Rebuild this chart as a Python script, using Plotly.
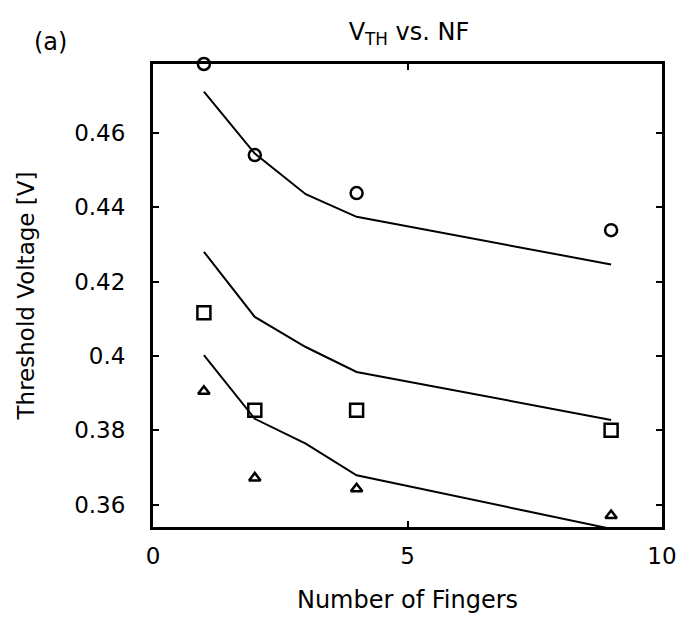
import plotly.graph_objects as go

# Number of fingers
nf_meas = [1, 2, 4, 9]
nf_model = [1, 2, 3, 4, 9]

# Measured threshold voltage [V]
vth_circle = [0.4785, 0.4540, 0.4438, 0.4338]
vth_square = [0.4116, 0.3854, 0.3854, 0.3800]
vth_triangle = [0.3905, 0.3672, 0.3643, 0.3571]

# Model curves [V]
model_circle = [0.4711, 0.4544, 0.4435, 0.4374, 0.4246]
model_square = [0.4280, 0.4105, 0.4024, 0.3957, 0.3828]
model_triangle = [0.4002, 0.3831, 0.3764, 0.3679, 0.3535]

x_ticks = [0, 5, 10]
y_ticks = [0.36, 0.38, 0.40, 0.42, 0.44, 0.46]
y_tick_text = ["0.36", "0.38", "0.4", "0.42", "0.44", "0.46"]

FONT = "DejaVu Sans"
BLACK = "#000000"

fig = go.Figure()

for ys in (model_circle, model_square, model_triangle):
    fig.add_trace(go.Scatter(
        x=nf_model, y=ys, mode="lines",
        line=dict(color=BLACK, width=2),
        showlegend=False, hoverinfo="skip",
    ))

for ys, sym, size in ((vth_circle, "circle-open", 12),
                      (vth_square, "square-open", 13),
                      (vth_triangle, "triangle-up-open", 10)):
    fig.add_trace(go.Scatter(
        x=nf_meas, y=ys, mode="markers",
        marker=dict(symbol=sym, size=size, color=BLACK, line=dict(width=2.5, color=BLACK)),
        showlegend=False, cliponaxis=False,
    ))

fig.update_layout(
    width=689, height=627,
    margin=dict(l=153, r=14, t=64, b=100),
    paper_bgcolor="white", plot_bgcolor="white",
    font=dict(family=FONT, size=22, color=BLACK),
    title=dict(
        text="V<sub>TH</sub> vs. NF",
        x=409 / 689, xanchor="center",
        y=1 - 32 / 627, yanchor="middle",
        font=dict(family=FONT, size=24, color=BLACK),
    ),
    annotations=[dict(
        text="(a)", xref="paper", yref="paper",
        x=(48 - 153) / 522, y=(527 - 42) / 463,
        xanchor="center", yanchor="middle", showarrow=False,
        font=dict(family=FONT, size=24, color=BLACK),
    )],
)

fig.update_xaxes(
    range=[0, 10], tickvals=x_ticks,
    showline=True, linewidth=3, linecolor=BLACK, mirror="ticks",
    ticks="inside", ticklen=6, tickwidth=2, tickcolor=BLACK,
    showgrid=False, zeroline=False,
    tickfont=dict(family=FONT, size=23, color=BLACK),
    ticklabelstandoff=6, ticklabeloverflow="allow",
    title=dict(text="Number of Fingers", standoff=24,
               font=dict(family=FONT, size=24, color=BLACK)),
)

fig.update_yaxes(
    range=[0.354, 0.4785], tickvals=y_ticks, ticktext=y_tick_text,
    showline=True, linewidth=3, linecolor=BLACK, mirror="ticks",
    ticks="inside", ticklen=6, tickwidth=2, tickcolor=BLACK,
    showgrid=False, zeroline=False,
    tickfont=dict(family=FONT, size=23, color=BLACK),
    ticklabelstandoff=20, ticklabeloverflow="allow",
    title=dict(text="Threshold Voltage [V]", standoff=34,
               font=dict(family=FONT, size=23, color=BLACK)),
)

fig.write_html("out.html")
